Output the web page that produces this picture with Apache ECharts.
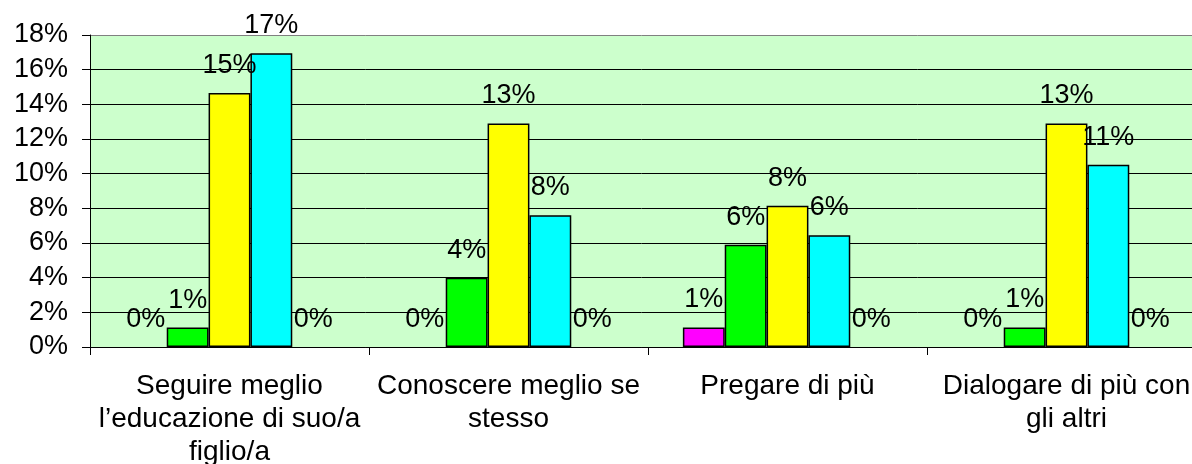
<!DOCTYPE html>
<html>
<head>
<meta charset="utf-8">
<script src="https://cdn.jsdelivr.net/npm/echarts@6/dist/echarts.min.js"></script>
<style>
html,body{margin:0;padding:0;background:#fff;}
#c{width:1192px;height:464px;}
</style>
</head>
<body>
<div id="c"></div>
<script>
var categories = [
  "Seguire meglio\nl\u2019educazione di suo/a\nfiglio/a",
  "Conoscere meglio se\nstesso",
  "Pregare di più",
  "Dialogare di più con\ngli altri"
];
var seriesMagenta = [0, 0, 1.13, 0];
var seriesGreen = [1.12, 4.0, 5.9, 1.13];
var seriesYellow = [14.65, 12.9, 8.15, 12.9];
var seriesCyan = [16.95, 7.6, 6.45, 10.52];
var seriesFifth = [0, 0, 0, 0];
var yTicks = [0, 2, 4, 6, 8, 10, 12, 14, 16, 18];

var FONT = '"Liberation Sans", Arial, Helvetica, sans-serif';
var FS = 27;
var chart = echarts.init(document.getElementById('c'));

function mk(name, data, color) {
  return {
    name: name,
    type: 'bar',
    data: data.map(function (v) {
      return v === 0 ? { value: v, itemStyle: { borderWidth: 0 } } : v;
    }),
    barGap: '0%',
    barCategoryGap: '25%',
    itemStyle: { color: color, borderColor: '#000', borderWidth: 1.5 },
    label: {
      show: true,
      position: 'top',
      distance: 14,
      color: '#000',
      fontFamily: FONT,
      fontSize: FS,
      lineHeight: FS,
      formatter: function (p) { return Math.round(p.value) + '%'; }
    },
    animation: false
  };
}

var gridColors = yTicks.map(function (v, i) { return i === yTicks.length - 1 ? '#808080' : '#000'; });

chart.setOption({
  backgroundColor: '#fff',
  animation: false,
  grid: {
    left: 90, top: 35, width: 1116, height: 312,
    containLabel: false,
    outerBoundsMode: 'none',
    show: true,
    backgroundColor: '#CCFFCC',
    borderWidth: 0
  },
  xAxis: {
    type: 'category',
    data: categories,
    axisLine: { lineStyle: { color: '#000', width: 1 } },
    axisTick: { show: true, length: 8, lineStyle: { color: '#000' } },
    axisLabel: {
      color: '#000', fontFamily: FONT, fontSize: 28, lineHeight: 33,
      margin: 23, interval: 0
    }
  },
  yAxis: {
    type: 'value',
    min: 0, max: 18, interval: 2,
    axisLine: { show: true, lineStyle: { color: '#000', width: 1 } },
    axisTick: { show: true, length: 8, lineStyle: { color: '#000' } },
    splitLine: { show: true, lineStyle: { color: gridColors, width: 1 } },
    axisLabel: {
      color: '#000', fontFamily: FONT, fontSize: FS, margin: 22,
      formatter: function (v) { return v + '%'; }
    }
  },
  series: [
    mk('A', seriesMagenta, '#FF00FF'),
    mk('B', seriesGreen, '#00FF00'),
    mk('C', seriesYellow, '#FFFF00'),
    mk('D', seriesCyan, '#00FFFF'),
    mk('E', seriesFifth, '#FF0000')
  ]
});
</script>
</body>
</html>
